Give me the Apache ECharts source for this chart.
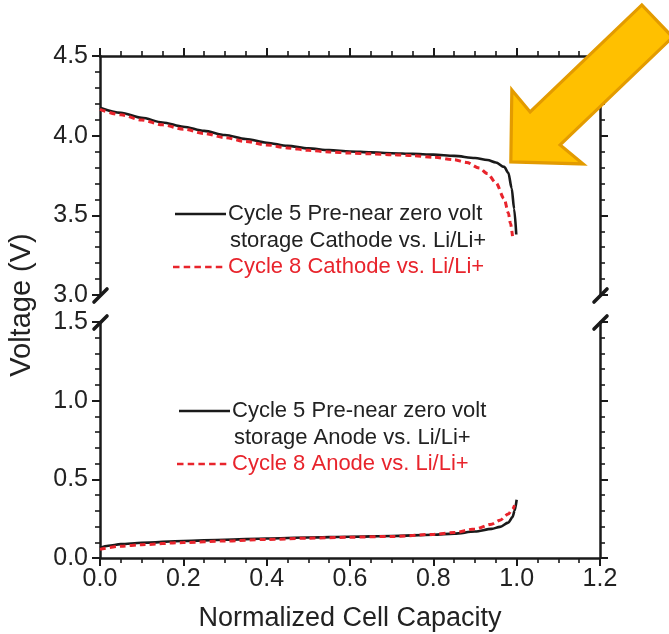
<!DOCTYPE html>
<html>
<head>
<meta charset="utf-8">
<script src="https://cdn.jsdelivr.net/npm/echarts@6/dist/echarts.min.js"></script>
<style>
  html, body { margin: 0; padding: 0; background: #ffffff; }
  #chart { width: 669px; height: 634px; }
</style>
</head>
<body>
<div id="chart"></div>
<script>
// Axis ranges and tick labels
const capacityRange = [0, 1.2];
const capacityStep = 0.2;
const cathodeRange = [3.0, 4.5];
const anodeRange = [0.0, 1.5];
const voltageStep = 0.5;

// Legend labels
const cathodeLegend = ['Cycle 5 Pre-near zero volt', 'storage Cathode vs. Li/Li+', 'Cycle 8 Cathode vs. Li/Li+'];
const anodeLegend = ['Cycle 5 Pre-near zero volt', 'storage Anode vs. Li/Li+', 'Cycle 8 Anode vs. Li/Li+'];

// Cathode potential vs. normalized capacity  [capacity, V]
const cathodeCycle5 = [
  [0.00, 4.175], [0.05, 4.143], [0.10, 4.112], [0.15, 4.083], [0.20, 4.056],
  [0.25, 4.030], [0.30, 4.004], [0.35, 3.979], [0.40, 3.956], [0.45, 3.936],
  [0.50, 3.920], [0.55, 3.909], [0.60, 3.901], [0.65, 3.895], [0.70, 3.890],
  [0.75, 3.886], [0.80, 3.881], [0.85, 3.873], [0.90, 3.860], [0.93, 3.847],
  [0.95, 3.832], [0.97, 3.804], [0.98, 3.767], [0.988, 3.670], [0.994, 3.540],
  [0.999, 3.380]
];
const cathodeCycle8 = [
  [0.00, 4.165], [0.05, 4.131], [0.10, 4.098], [0.15, 4.068], [0.20, 4.041],
  [0.25, 4.014], [0.30, 3.988], [0.35, 3.963], [0.40, 3.942], [0.45, 3.923],
  [0.50, 3.908], [0.55, 3.898], [0.60, 3.891], [0.65, 3.886], [0.70, 3.881],
  [0.75, 3.875], [0.80, 3.865], [0.85, 3.849], [0.88, 3.832], [0.91, 3.797],
  [0.93, 3.762], [0.95, 3.705], [0.97, 3.605], [0.98, 3.515], [0.985, 3.450],
  [0.99, 3.370]
];

// Anode potential vs. normalized capacity  [capacity, V]
const anodeCycle5 = [
  [0.00, 0.065], [0.02, 0.078], [0.05, 0.088], [0.10, 0.097], [0.20, 0.108],
  [0.30, 0.116], [0.40, 0.124], [0.50, 0.130], [0.60, 0.135], [0.70, 0.140],
  [0.80, 0.148], [0.85, 0.155], [0.90, 0.168], [0.94, 0.185], [0.96, 0.198],
  [0.98, 0.225], [0.99, 0.260], [0.995, 0.300], [1.00, 0.370]
];
const anodeCycle8 = [
  [0.00, 0.055], [0.05, 0.075], [0.10, 0.085], [0.20, 0.098], [0.30, 0.108],
  [0.40, 0.118], [0.50, 0.126], [0.60, 0.132], [0.70, 0.137], [0.80, 0.150],
  [0.85, 0.162], [0.90, 0.185], [0.94, 0.215], [0.96, 0.240], [0.98, 0.280],
  [0.99, 0.310], [0.995, 0.335]
];

const FONT = '"Liberation Sans", Arial, Helvetica, sans-serif';
const INK = '#1a1a1a';
const RED = '#e8242c';

const chart = echarts.init(document.getElementById('chart'), null, { renderer: 'canvas' });

const axisLine = { show: true, onZero: false, lineStyle: { color: INK, width: 2.5 } };
const axisTick = { show: true, inside: false, length: 8, lineStyle: { color: INK, width: 2 } };
const fmt1 = v => v.toFixed(1);

function xAxisFor(gridIndex, position, showLabels) {
  return {
    type: 'value', gridIndex, position,
    min: capacityRange[0], max: capacityRange[1], interval: capacityStep,
    axisLine, axisTick,
    minorTick: { show: true, splitNumber: 4, length: 5, lineStyle: { color: INK, width: 1.6 } },
    splitLine: { show: false },
    axisLabel: { show: showLabels, formatter: fmt1, fontFamily: FONT, fontSize: 25, color: '#222', margin: 9 },
    name: showLabels ? 'Normalized Cell Capacity' : '',
    nameLocation: 'middle', nameGap: 47,
    nameTextStyle: { fontFamily: FONT, fontSize: 27, color: '#222' }
  };
}

function yAxisFor(gridIndex, position, range, showLabels) {
  return {
    type: 'value', gridIndex, position,
    min: range[0], max: range[1], interval: voltageStep,
    axisLine, axisTick,
    minorTick: { show: true, splitNumber: 5, length: 5, lineStyle: { color: INK, width: 1.6 } },
    splitLine: { show: false },
    axisLabel: { show: showLabels, formatter: fmt1, fontFamily: FONT, fontSize: 25, color: '#222', margin: 12 }
  };
}

function curve(name, data, xi, yi, dashed) {
  return {
    name, type: 'line', data, xAxisIndex: xi, yAxisIndex: yi,
    showSymbol: false, smooth: 0.3, smoothMonotone: 'x',
    lineStyle: dashed
      ? { color: RED, width: 3, type: [6, 4] }
      : { color: INK, width: 2.6 },
    z: dashed ? 3 : 2
  };
}

chart.setOption({
  animation: false,
  backgroundColor: '#ffffff',
  grid: [
    { left: 100, top: 56, width: 500, height: 239 },
    { left: 100, top: 322, width: 500, height: 236 }
  ],
  xAxis: [
    xAxisFor(0, 'top', false),
    xAxisFor(1, 'bottom', true)
  ],
  yAxis: [
    yAxisFor(0, 'left', cathodeRange, true),
    yAxisFor(0, 'right', cathodeRange, false),
    yAxisFor(1, 'left', anodeRange, true),
    yAxisFor(1, 'right', anodeRange, false)
  ],
  series: [
    curve('Cycle 5 Cathode', cathodeCycle5, 0, 0, false),
    curve('Cycle 8 Cathode', cathodeCycle8, 0, 0, true),
    curve('Cycle 5 Anode', anodeCycle5, 1, 2, false),
    curve('Cycle 8 Anode', anodeCycle8, 1, 2, true)
  ]
});

// Decorations positioned from the axes: axis-break slashes, legends, y title, arrow
const px = (xi, yi, pt) => chart.convertToPixel({ xAxisIndex: xi, yAxisIndex: yi }, pt);

const topBottomL = px(0, 0, [capacityRange[0], cathodeRange[0]]);
const topBottomR = px(0, 0, [capacityRange[1], cathodeRange[0]]);
const botTopL = px(1, 2, [capacityRange[0], anodeRange[1]]);
const botTopR = px(1, 2, [capacityRange[1], anodeRange[1]]);

function slash(p) {
  return {
    type: 'line', z: 50,
    shape: { x1: p[0] - 6, y1: p[1] + 7, x2: p[0] + 7, y2: p[1] - 6 },
    style: { stroke: INK, lineWidth: 3.6, lineCap: 'round' }
  };
}

function legendBlock(lines, x0, y0) {
  const lh = 26.5;
  const items = [
    { type: 'line', shape: { x1: x0 - 53, y1: y0, x2: x0 - 2, y2: y0 }, style: { stroke: INK, lineWidth: 2.4 } },
    { type: 'line', shape: { x1: x0 - 55, y1: y0 + 2 * lh, x2: x0 - 2, y2: y0 + 2 * lh }, style: { stroke: RED, lineWidth: 2.6, lineDash: [6.5, 4.2] } }
  ];
  lines.forEach((t, i) => {
    items.push({
      type: 'text', z: 20,
      style: {
        text: t, x: i === 1 ? x0 + 2 : x0, y: y0 + i * lh,
        font: '22px ' + FONT, fill: i === 2 ? RED : '#222',
        textVerticalAlign: 'middle', textAlign: 'left'
      }
    });
  });
  return items;
}

// arrow pointing at the knee of the cathode curve
const tip = px(0, 0, [0.986, 3.835]);
const arrowShape = [[1, -72], [19.3, -50], [131, -157], [161.8, -124.8], [49.3, -17], [72.3, 2], [0, 0]];

chart.setOption({
  graphic: [
    slash(topBottomL), slash(topBottomR), slash(botTopL), slash(botTopR),
    ...legendBlock(cathodeLegend, 228, 214),
    ...legendBlock(anodeLegend, 232, 411),
    {
      type: 'text', z: 20, x: 22, y: 305, rotation: Math.PI / 2,
      style: { text: 'Voltage (V)', font: '29px ' + FONT, fill: '#222', textAlign: 'center', textVerticalAlign: 'middle' }
    },
    {
      type: 'polygon', z: 100,
      shape: { points: arrowShape.map(d => [tip[0] + d[0], tip[1] + d[1]]) },
      style: { fill: '#ffc000', stroke: '#e39b00', lineWidth: 3.2, lineJoin: 'miter' }
    }
  ]
});
</script>
</body>
</html>
